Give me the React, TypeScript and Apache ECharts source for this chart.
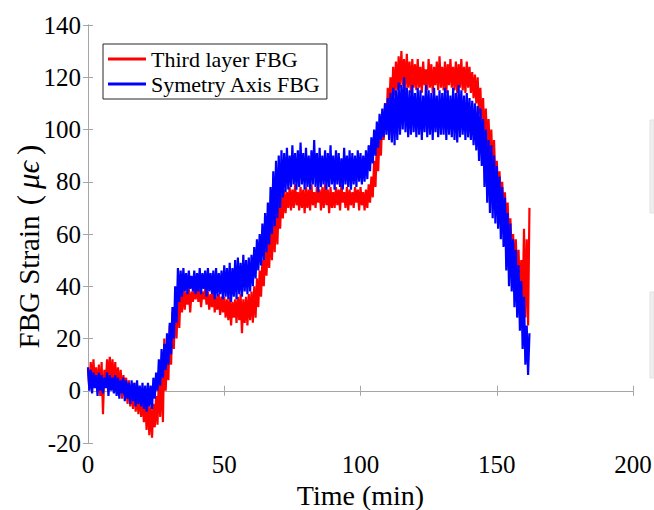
import React, { useEffect, useRef } from "react";
import * as echarts from "echarts";

// sampling: one reading every half minute, starting at t = 0 min
const SAMPLE_STEP_MIN = 0.5;

const seriesNames = ["Third layer FBG", "Symetry Axis FBG"];

// Third layer FBG strain (μϵ), t = 0 … 162 min, every 0.5 min (each row = 10 min)
const thirdLayer = [
  8, 1, 11, 3, 12, 2, 9, 0, 10, -2, 11, -9, 8, 2, 12, 4, 13, 3, 12, 2,
  11, 1, 9, 0, 8, -3, 6, -2, 5, -5, 4, -6, 2, -7, 3, -8, 0, -9, 1, -10,
  -2, -12, -4, -15, -3, -17, -6, -18, -5, -14, -2, -13, 5, -10, 8, -12, 20, 0, 14, 4,
  25, 10, 30, 16, 33, 20, 38, 24, 39, 30, 40, 31, 38, 33, 39, 30, 38, 34, 39, 35,
  40, 34, 39, 32, 38, 35, 39, 33, 38, 31, 37, 32, 38, 30, 36, 31, 37, 29, 36, 30,
  36, 28, 35, 27, 36, 25, 34, 28, 35, 26, 36, 27, 37, 22, 35, 26, 36, 25, 37, 27,
  38, 26, 40, 28, 43, 32, 46, 36, 50, 40, 54, 44, 58, 47, 62, 50, 66, 53, 70, 56,
  72, 62, 75, 66, 77, 68, 76, 70, 78, 69, 77, 70, 79, 71, 76, 69, 78, 70, 77, 68,
  78, 70, 77, 69, 79, 71, 76, 70, 78, 72, 77, 69, 78, 70, 79, 71, 77, 68, 78, 70,
  76, 70, 78, 71, 77, 69, 79, 72, 76, 70, 78, 69, 77, 71, 76, 70, 78, 72, 77, 69,
  78, 71, 76, 69, 77, 70, 79, 72, 82, 74, 88, 78, 95, 84, 100, 90, 106, 96, 110, 100,
  116, 106, 120, 110, 124, 113, 126, 115, 128, 116, 130, 117, 127, 115, 129, 116, 126, 114, 127, 116,
  125, 115, 127, 116, 124, 114, 126, 117, 123, 115, 127, 116, 125, 114, 124, 117, 126, 115, 128, 116,
  124, 115, 126, 114, 125, 117, 127, 116, 124, 115, 126, 114, 125, 116, 127, 115, 124, 114, 126, 116,
  124, 114, 122, 112, 121, 110, 120, 106, 116, 100, 112, 95, 108, 92, 104, 88, 100, 84, 96, 80,
  88, 76, 84, 72, 80, 68, 76, 62, 72, 56, 66, 50, 60, 45, 58, 42, 54, 36, 50, 32,
  62, 28, 58, 25, 70,
];

// Symetry Axis FBG strain (μϵ), t = 0 … 162 min, every 0.5 min (each row = 10 min)
const symmetryAxis = [
  9, 0, 8, -1, 7, 1, 6, -2, 7, 0, 6, -1, 5, 1, 7, -2, 6, 0, 5, -1,
  6, -2, 5, -3, 4, -1, 5, -4, 4, -3, 3, -5, 4, -4, 3, -6, 4, -5, 2, -6,
  3, -7, 2, -8, 3, -6, 2, -7, 5, -3, 7, 0, 12, 2, 16, 5, 18, 8, 22, 10,
  26, 14, 32, 20, 40, 26, 47, 34, 46, 36, 47, 38, 45, 37, 46, 39, 44, 38, 46, 37,
  45, 38, 47, 37, 45, 39, 46, 36, 47, 38, 45, 37, 46, 35, 47, 36, 45, 37, 46, 35,
  48, 36, 47, 35, 49, 34, 47, 36, 50, 35, 51, 37, 49, 36, 52, 38, 50, 37, 51, 38,
  52, 40, 55, 43, 58, 46, 60, 48, 64, 50, 68, 53, 72, 56, 78, 60, 84, 63, 88, 66,
  90, 70, 92, 74, 91, 76, 93, 77, 90, 78, 94, 79, 91, 77, 92, 78, 95, 79, 91, 77,
  93, 78, 90, 77, 92, 79, 96, 78, 91, 76, 93, 78, 90, 79, 92, 77, 91, 78, 94, 79,
  90, 77, 92, 79, 91, 78, 89, 77, 93, 79, 90, 78, 92, 77, 91, 79, 90, 78, 92, 80,
  91, 79, 90, 80, 92, 81, 94, 84, 97, 87, 100, 90, 103, 93, 106, 96, 108, 97, 110, 98,
  112, 96, 114, 95, 116, 94, 115, 96, 118, 98, 117, 100, 120, 99, 116, 97, 115, 98, 117, 99,
  114, 97, 116, 98, 115, 96, 113, 99, 117, 97, 115, 98, 114, 96, 116, 99, 113, 97, 115, 98,
  114, 98, 116, 96, 115, 98, 113, 97, 116, 96, 114, 95, 117, 97, 115, 98, 113, 96, 114, 97,
  112, 96, 111, 94, 110, 92, 109, 88, 108, 86, 104, 78, 100, 72, 96, 68, 94, 66, 90, 64,
  86, 62, 82, 58, 78, 55, 74, 46, 68, 40, 64, 38, 58, 32, 54, 28, 48, 23, 42, 16,
  36, 10, 25, 6, 22,
];

const xTicks = { min: 0, max: 200, interval: 50 };
const yTicks = { min: -20, max: 140, interval: 20 };

const FONT = "Liberation Serif";
const AXIS_GRAY = "#a6a6a6";

function toPairs(values: number[]) {
  return values.map((v, i) => [i * SAMPLE_STEP_MIN, v]);
}

export default function App() {
  const ref = useRef<HTMLDivElement>(null);

  useEffect(() => {
    if (!ref.current) return;
    const chart = echarts.init(ref.current, null, { renderer: "svg" });

    const baseAxis = {
      axisLine: { show: true, lineStyle: { color: AXIS_GRAY, width: 1 } },
      axisTick: { show: true, inside: true, length: 5, lineStyle: { color: AXIS_GRAY } },
      splitLine: { show: false },
    };

    chart.setOption({
      animation: false,
      backgroundColor: "#ffffff",
      grid: {
        left: 88,
        top: 25,
        width: 545,
        height: 418,
        containLabel: false,
        outerBoundsMode: "none",
      },
      legend: {
        data: seriesNames,
        orient: "vertical",
        left: 103,
        top: 44,
        icon: "rect",
        itemWidth: 38,
        itemHeight: 3,
        itemGap: 3,
        padding: [4, 6, 4, 5],
        backgroundColor: "#ffffff",
        borderColor: "#262626",
        borderWidth: 1,
        textStyle: { fontFamily: FONT, fontSize: 22, color: "#000000" },
      },
      xAxis: [
        {
          type: "value",
          position: "bottom",
          min: xTicks.min,
          max: xTicks.max,
          interval: xTicks.interval,
          ...baseAxis,
          axisLabel: { fontFamily: FONT, fontSize: 25, color: "#000000", margin: 9 },
          name: "Time (min)",
          nameLocation: "middle",
          nameGap: 38,
          nameMoveOverlap: false,
          nameTextStyle: { fontFamily: FONT, fontSize: 28, color: "#000000" },
        },
        {
          type: "value",
          position: "top",
          min: xTicks.min,
          max: xTicks.max,
          interval: xTicks.interval,
          ...baseAxis,
          axisLabel: { show: false },
        },
      ],
      yAxis: [
        {
          type: "value",
          position: "left",
          min: yTicks.min,
          max: yTicks.max,
          interval: yTicks.interval,
          ...baseAxis,
          axisLabel: { fontFamily: FONT, fontSize: 25, color: "#000000", margin: 7 },
          name: "FBG Strain {p|(}{i|μϵ}{p|)}",
          nameLocation: "middle",
          nameGap: 44,
          nameMoveOverlap: false,
          nameRotate: 90,
          nameTextStyle: {
            fontFamily: FONT,
            fontSize: 29,
            color: "#000000",
            padding: [0, 22, 0, 0],
            rich: {
              p: { fontFamily: FONT, fontSize: 31, color: "#000000", padding: [0, 3, 0, 3] },
              i: { fontFamily: FONT, fontSize: 31, fontStyle: "italic", color: "#000000", padding: [0, 3, 0, 3] },
            },
          },
        },
        {
          type: "value",
          position: "right",
          min: yTicks.min,
          max: yTicks.max,
          interval: yTicks.interval,
          ...baseAxis,
          axisLabel: { show: false },
        },
      ],
      series: [
        {
          name: seriesNames[0],
          type: "line",
          data: toPairs(thirdLayer),
          showSymbol: false,
          symbol: "none",
          color: "#ff0000",
          lineStyle: { color: "#ff0000", width: 2.2 },
        },
        {
          name: seriesNames[1],
          type: "line",
          data: toPairs(symmetryAxis),
          showSymbol: false,
          symbol: "none",
          color: "#0000ff",
          lineStyle: { color: "#0000ff", width: 2.2 },
        },
      ],
      graphic: [
        { type: "rect", shape: { x: 650, y: 120, width: 4, height: 93 }, style: { fill: "#efefef", stroke: "#e2e2e2", lineWidth: 1 } },
        { type: "rect", shape: { x: 650, y: 292, width: 4, height: 86 }, style: { fill: "#efefef", stroke: "#e2e2e2", lineWidth: 1 } },
      ],
    });

    return () => chart.dispose();
  }, []);

  return (
    <div
      ref={ref}
      style={{ position: "absolute", left: 0, top: 0, width: 654, height: 510 }}
    />
  );
}
